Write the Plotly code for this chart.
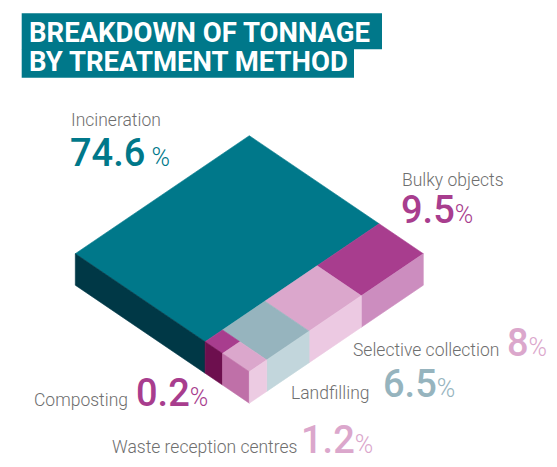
import plotly.graph_objects as go

# ---------------- data ----------------
categories = ["Incineration", "Bulky objects", "Selective collection",
              "Landfilling", "Composting", "Waste reception centres"]
values = [74.6, 9.5, 8.0, 6.5, 0.2, 1.2]
value_labels = ["74.6", "9.5", "8", "6.5", "0.2", "1.2"]
title_lines = ["BREAKDOWN OF TONNAGE", "BY TREATMENT METHOD"]

# ---------------- styles ----------------
TEAL = "#00788a"
top_colors = [TEAL, "#a83d8e", "#dba7cc", "#96b4be", "#a83d8e", "#dba7cc"]
left_colors = ["#003846", None, None, None, "#6d0f4e", "#bf70a8"]
right_colors = [None, "#cc8dbf", "#ecc9e2", "#c2d6dc", None, "#eccbe2"]
value_colors = [TEAL, "#a83d8e", "#dba7cc", "#96b4be", "#a83d8e", "#dba7cc"]
pct_sep = [" ", "", "", "", "", ""]
TEXT_GREY = "#6e6e6e"
FONT = "Roboto"

# projection of the block (screen units)
X0, Y0 = 249.3, 135.7      # back (top) corner of the block
A, B = 174.0, 118.0        # half-diagonal extents of the top face
T = 31.5                   # block thickness
MIN_SIDE = 0.1             # minimum visible cell side (unit square)

# label placement: (name_x, name_baseline, name_anchor, value_x, value_baseline)
label_pos = {
    "Incineration": (70, 126, "left", 69, 165.7),
    "Bulky objects": (400.5, 186, "left", 399.5, 223.3),
    "Selective collection": (500, 355.7, "right", 506, 355.7),
    "Landfilling": (371, 399.3, "right", 382, 396.5),
    "Composting": (129, 405.7, "right", 134.5, 405.7),
    "Waste reception centres": (297.5, 453, "right", 299.5, 452.5),
}

# ---------------- layout of the cells from the data ----------------
total = sum(values)
u_split = values[0] / total
rest_total = sum(values[1:])
small = values[4] + values[5]
small_w = max(small / rest_total, MIN_SIDE)
big = values[1:4]
big_w = [(1 - small_w) * b / sum(big) for b in big]
v_edges = [0.0]
for w in big_w:
    v_edges.append(v_edges[-1] + w)
comp_w = max(values[4] / small * (1 - u_split), MIN_SIDE)

cells = [
    (0.0, u_split, 0.0, 1.0),
    (u_split, 1.0, v_edges[0], v_edges[1]),
    (u_split, 1.0, v_edges[1], v_edges[2]),
    (u_split, 1.0, v_edges[2], v_edges[3]),
    (u_split, u_split + comp_w, v_edges[3], 1.0),
    (u_split + comp_w, 1.0, v_edges[3], 1.0),
]


def proj(u, v, z):
    """z = 1 on the top face, 0 at the bottom."""
    return X0 + (u - v) * A, Y0 + (u + v) * B + (1 - z) * T


fig = go.Figure()


def add_poly(pts, color):
    xs = [p[0] for p in pts] + [pts[0][0]]
    ys = [p[1] for p in pts] + [pts[0][1]]
    fig.add_trace(go.Scatter(x=xs, y=ys, mode="lines", fill="toself",
                             fillcolor=color, line=dict(color=color, width=0.6),
                             hoverinfo="skip", showlegend=False))


for i, (u0, u1, v0, v1) in enumerate(cells):
    add_poly([proj(u0, v0, 1), proj(u1, v0, 1), proj(u1, v1, 1), proj(u0, v1, 1)],
             top_colors[i])
    if v1 >= 1 and left_colors[i]:
        add_poly([proj(u0, 1, 1), proj(u1, 1, 1), proj(u1, 1, 0), proj(u0, 1, 0)],
                 left_colors[i])
    if u1 >= 1 and right_colors[i]:
        add_poly([proj(1, v0, 1), proj(1, v1, 1), proj(1, v1, 0), proj(1, v0, 0)],
                 right_colors[i])

annotations = []
NAME_SIZE = 17.5
VAL_SIZE = 38
PCT_SIZE = 25


def mid_from_baseline(base, size):
    return base - 0.342 * size


for i, cat in enumerate(categories):
    nx, nb, nanc, vx, vb = label_pos[cat]
    annotations.append(dict(
        x=nx, y=mid_from_baseline(nb, NAME_SIZE), xref="x", yref="y",
        text=cat, showarrow=False, xanchor=nanc, yanchor="middle",
        font=dict(family=FONT, size=NAME_SIZE, color=TEXT_GREY, weight=300),
        borderpad=0))
    txt = (f"<span style='font-weight:500'>{value_labels[i]}</span>"
           f"<span style='font-size:{PCT_SIZE}px;font-weight:300'>{pct_sep[i]}%</span>")
    annotations.append(dict(
        x=vx, y=mid_from_baseline(vb, VAL_SIZE), xref="x", yref="y",
        text=txt, showarrow=False, xanchor="left", yanchor="middle",
        font=dict(family=FONT, size=VAL_SIZE, color=value_colors[i]),
        borderpad=0))

# title highlight boxes
shapes = [
    dict(type="rect", xref="x", yref="y", x0=21.7, x1=382, y0=13.3, y1=49.3,
         fillcolor=TEAL, line=dict(width=0), layer="below"),
    dict(type="rect", xref="x", yref="y", x0=21.7, x1=354, y0=49, y1=77.7,
         fillcolor=TEAL, line=dict(width=0), layer="below"),
]
TITLE_SIZE = 27.5
for line, base in zip(title_lines, [42.3, 71]):
    annotations.append(dict(
        x=28, y=mid_from_baseline(base, TITLE_SIZE), xref="x", yref="y",
        text=line, showarrow=False, xanchor="left", yanchor="middle",
        font=dict(family=FONT, size=TITLE_SIZE, color="white", weight=700),
        borderpad=0))

fig.update_layout(
    width=557, height=467, autosize=False,
    margin=dict(l=0, r=0, t=0, b=0),
    paper_bgcolor="white", plot_bgcolor="white",
    xaxis=dict(range=[0, 557], visible=False, fixedrange=True),
    yaxis=dict(range=[467, 0], visible=False, fixedrange=True),
    annotations=annotations, shapes=shapes,
    showlegend=False,
)
fig.write_html("out.html", config={"displayModeBar": False},
               post_script="document.body.style.margin='0px';"
                           "document.body.style.overflow='hidden';")
